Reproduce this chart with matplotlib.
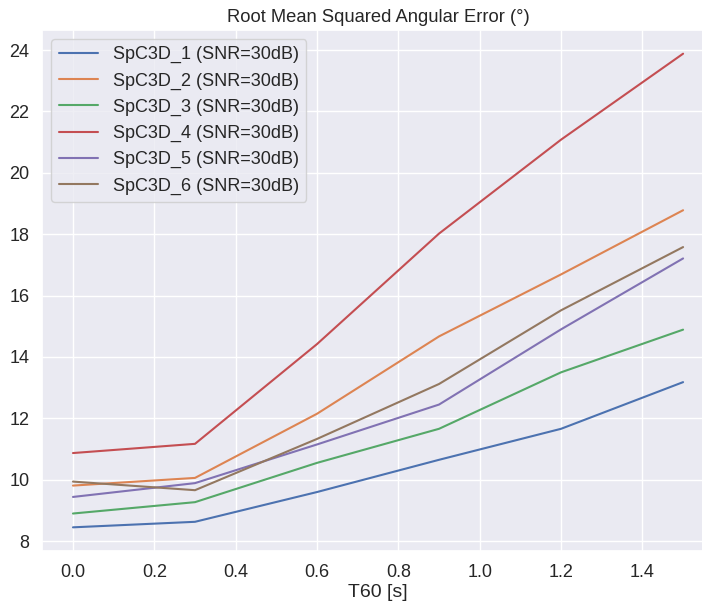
import matplotlib
matplotlib.use("Agg")
import matplotlib.pyplot as plt
import seaborn as sns

sns.set_theme(style="darkgrid", font_scale=1.2)
plt.rcParams['font.family'] = ['Liberation Sans', 'DejaVu Sans']

t60 = [0.0, 0.3, 0.6, 0.9, 1.2, 1.5]
labels = [f"SpC3D_{i} (SNR=30dB)" for i in range(1, 7)]
spc1 = [8.45, 8.63, 9.60, 10.65, 11.66, 13.18]
spc2 = [9.81, 10.06, 12.15, 14.67, 16.69, 18.78]
spc3 = [8.90, 9.27, 10.55, 11.66, 13.50, 14.89]
spc4 = [10.87, 11.17, 14.42, 18.02, 21.08, 23.88]
spc5 = [9.44, 9.89, 11.15, 12.45, 14.90, 17.21]
spc6 = [9.94, 9.66, 11.33, 13.12, 15.52, 17.58]
series = [spc1, spc2, spc3, spc4, spc5, spc6]

fig = plt.figure(figsize=(7.02, 6.10), dpi=100)
ax = fig.add_axes([0.0605, 0.0967, 0.956, 0.8541])
for lab, vals in zip(labels, series):
    ax.plot(t60, vals, label=lab, linewidth=1.5)

ax.set_title("Root Mean Squared Angular Error (°)", fontsize=13.2)
ax.set_xlabel("T60 [s]", fontsize=14, labelpad=2)
ax.set_yticks([8, 10, 12, 14, 16, 18, 20, 22, 24])
ax.set_xticks([0.0, 0.2, 0.4, 0.6, 0.8, 1.0, 1.2, 1.4])
ax.tick_params(labelsize=13)
ax.legend(loc="upper left", fontsize=13, handlelength=2.2)

fig.savefig("out.png", dpi=100)
